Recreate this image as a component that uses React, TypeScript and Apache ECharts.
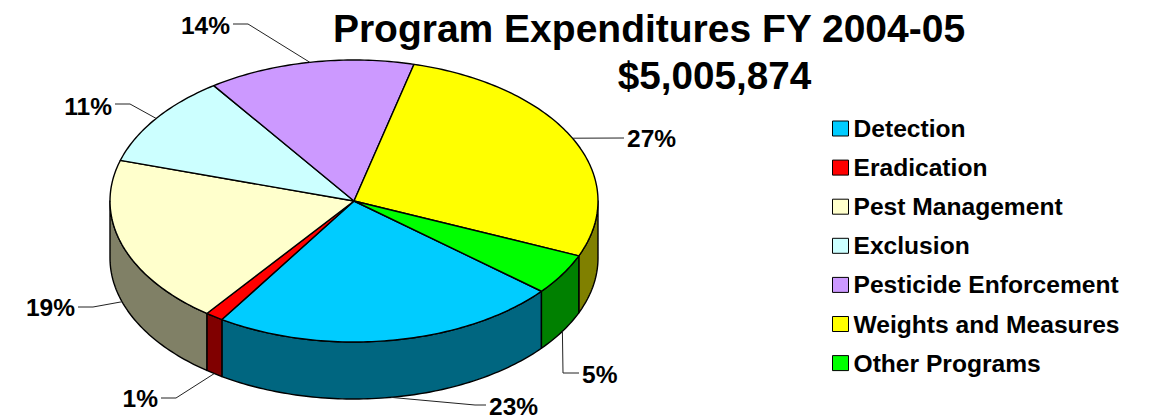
import React, { useEffect, useRef } from "react";
import * as echarts from "echarts";

const categories = ["Detection", "Eradication", "Pest Management", "Exclusion", "Pesticide Enforcement", "Weights and Measures", "Other Programs"];
const shares = [23.05, 1.2, 19.35, 10.6, 13.7, 27.4, 4.7];
const topColors = ["#00CCFF", "#FF0000", "#FFFFCC", "#CCFFFF", "#CC99FF", "#FFFF00", "#00FF00"];
const sideColors = ["#006680", "#800000", "#808066", "#668080", "#664C80", "#808000", "#008000"];
const titleLines = ["Program Expenditures FY 2004-05", "$5,005,874"];

// layout of the drawn pie
const CX = 354, CY = 201, RX = 244, RY = 141, DEPTH = 57, START_DEG = 39.8;
// leader-line elbows [[x,y]...] and label anchors for each slice
const elbows = [[[475, 405], [486, 405]], [[176, 398], [161, 398]], [[93, 307], [78, 307]], [[130, 104], [115, 104]], [[248, 24], [233, 24]], [[624, 138]], [[563, 373], [579, 373]]];
const labelPos = [[489, 406, "left"], [158, 398, "right"], [75, 307, "right"], [112, 106, "right"], [230, 25, "right"], [627, 138, "left"], [582, 374, "left"]];
const FONT = "'Liberation Sans', Arial, sans-serif";

const pt = (deg: number, dy = 0) => {
  const r = (deg * Math.PI) / 180;
  return [CX + RX * Math.cos(r), CY + RY * Math.sin(r) + dy];
};
const arc = (a0: number, a1: number, dy = 0) => {
  const n = Math.max(2, Math.ceil((a1 - a0) / 1));
  const out: number[][] = [];
  for (let i = 0; i <= n; i++) out.push(pt(a0 + ((a1 - a0) * i) / n, dy));
  return out;
};

const total = shares.reduce((a, b) => a + b, 0);

function renderSlice(index: number) {
  return (_params: any, api: any) => {
    const v = api.value(0) as number;
    const before = shares.slice(0, index).reduce((a, b) => a + b, 0);
    const a0 = START_DEG + (before / total) * 360;
    const a1 = a0 + (v / total) * 360;
    const children: any[] = [];
    const stroke = { stroke: "#000", lineWidth: 1.4, lineJoin: "round" };
    for (const [lo, hi] of [[0, 180], [360, 540]]) {
      const s = Math.max(a0, lo), e = Math.min(a1, hi);
      if (e > s) {
        children.push({
          type: "polygon",
          shape: { points: [...arc(s, e), ...arc(s, e, DEPTH).reverse()] },
          style: { fill: sideColors[index], ...stroke },
        });
      }
    }
    children.push({
      type: "polygon",
      shape: { points: [[CX, CY], ...arc(a0, a1)] },
      style: { fill: topColors[index], ...stroke },
    });
    const mid = (a0 + a1) / 2;
    const m = ((mid % 360) + 360) % 360;
    const anchor = pt(mid, m < 180 ? DEPTH : 0);
    children.push({
      type: "polyline",
      shape: { points: [anchor, ...elbows[index]] },
      style: { stroke: "#222", lineWidth: 1, fill: "none" },
    });
    const [lx, ly, align] = labelPos[index];
    children.push({
      type: "text",
      style: {
        text: `${Math.round(v)}%`,
        x: lx,
        y: ly,
        textAlign: align,
        textVerticalAlign: "middle",
        fill: "#000",
        fontFamily: FONT,
        fontWeight: "bold",
        fontSize: 24.5,
      },
    });
    return { type: "group", children };
  };
}

export default function App() {
  const ref = useRef<HTMLDivElement>(null);
  useEffect(() => {
    const chart = echarts.init(ref.current!, undefined, { renderer: "svg" });
    chart.setOption({
      animation: false,
      backgroundColor: "#fff",
      title: [
        { text: titleLines[0], left: 644, top: 4, textAlign: "center", textStyle: { fontFamily: FONT, fontWeight: "bold", fontSize: 39, color: "#000" } },
        { text: titleLines[1], left: 709.5, top: 51, textAlign: "center", textStyle: { fontFamily: FONT, fontWeight: "bold", fontSize: 38.7, color: "#000" } },
      ],
      legend: {
        orient: "vertical",
        left: 827,
        top: 111,
        icon: "rect",
        itemWidth: 16,
        itemHeight: 15,
        itemGap: 14.1,
        selectedMode: false,
        itemStyle: { borderColor: "#000", borderWidth: 1 },
        textStyle: { fontFamily: FONT, fontWeight: "bold", fontSize: 24.6, color: "#000", padding: [0, 0, 0, 0], lineHeight: 24 },
        data: categories,
      },
      series: categories.map((name, i) => ({
        type: "custom",
        name,
        coordinateSystem: "none",
        silent: true,
        itemStyle: { color: topColors[i] },
        data: [[shares[i]]],
        renderItem: renderSlice(i),
      })),
    });
    return () => chart.dispose();
  }, []);
  return <div ref={ref} style={{ position: "fixed", left: 0, top: 0, width: 1153, height: 419 }} />;
}
